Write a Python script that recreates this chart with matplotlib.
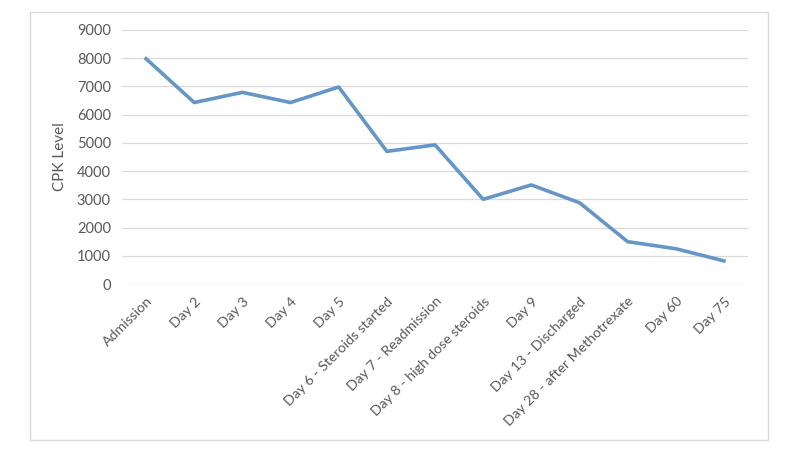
import matplotlib.pyplot as plt
from matplotlib.patches import Rectangle

categories = ['Admission', 'Day 2', 'Day 3', 'Day 4', 'Day 5',
              'Day 6 - Steroids started', 'Day 7 - Readmission',
              'Day 8 - high dose steroids', 'Day 9', 'Day 13 - Discharged',
              'Day 28 - after Methotrexate', 'Day 60', 'Day 75']
cpk = [7980, 6430, 6790, 6430, 6980, 4700, 4930, 3000, 3510, 2880, 1500, 1250, 820]
yticks = [0, 1000, 2000, 3000, 4000, 5000, 6000, 7000, 8000, 9000]

plt.rcParams['font.family'] = ['Lato', 'DejaVu Sans']
txt = '#595959'

fig = plt.figure(figsize=(8, 4.62), dpi=100)
fig.patches.append(Rectangle((30 / 800, 1 - 440 / 462), 738 / 800, 428 / 462,
                             transform=fig.transFigure, fill=False,
                             edgecolor='#d9d9d9', linewidth=1))

ax = fig.add_axes([122 / 800, 1 - 284 / 462, 626 / 800, 254 / 462])
x = list(range(len(categories)))
ax.plot(x, cpk, color='#6496c8', linewidth=2.6, solid_joinstyle='round')

ax.set_xlim(-0.5, len(categories) - 0.5)
ax.set_ylim(0, 9000)
ax.set_yticks(yticks)
ax.set_yticklabels([str(v) for v in yticks], fontsize=10.5, color=txt)
ax.set_xticks(x)
ax.set_xticklabels(categories, rotation=45, ha='right', rotation_mode='anchor',
                   fontsize=10.2, color=txt)
ax.tick_params(length=0, pad=8)
ax.tick_params(axis='x', pad=8)
ax.grid(axis='y', color='#d9d9d9', linewidth=0.9)
ax.set_axisbelow(True)
for s in ax.spines.values():
    s.set_visible(False)
ax.set_ylabel('CPK Level', fontsize=11, color=txt, labelpad=7)

fig.savefig('out.png', dpi=100)
